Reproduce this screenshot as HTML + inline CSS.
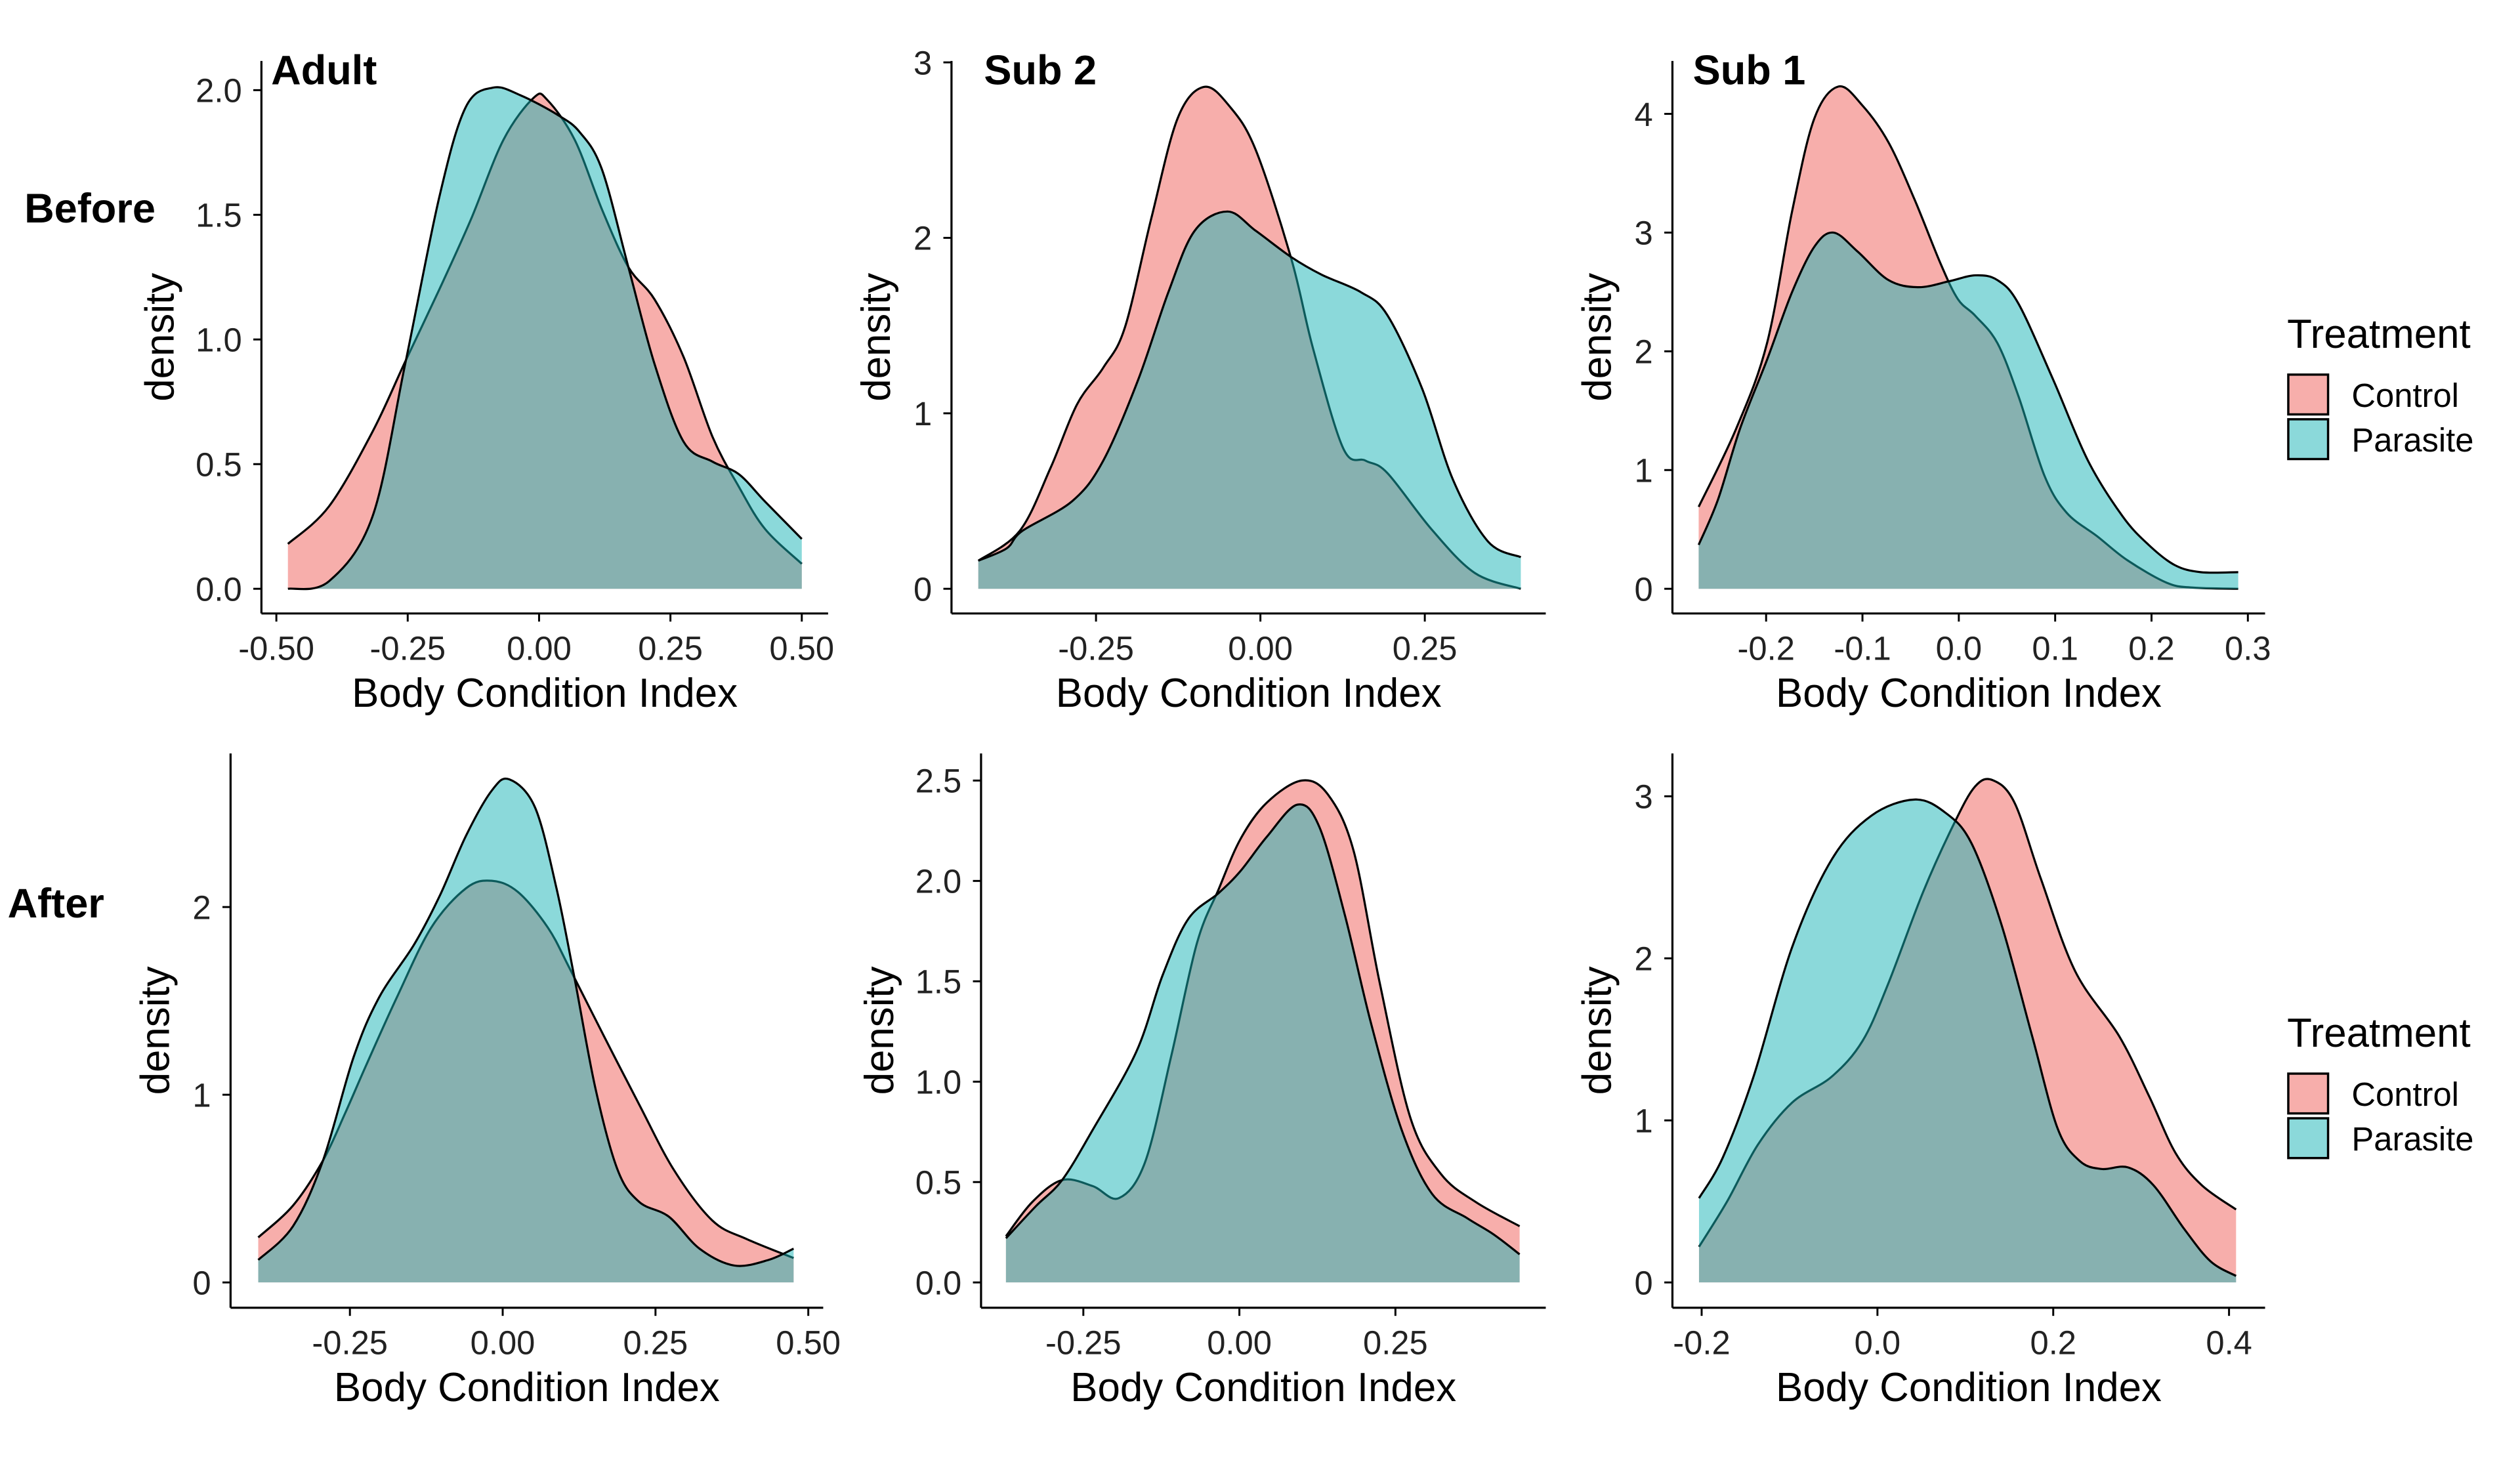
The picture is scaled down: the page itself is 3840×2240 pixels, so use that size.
<!DOCTYPE html>
<html><head><meta charset="utf-8"><style>
html,body{margin:0;padding:0;background:#fff;}
svg{display:block;font-family:"Liberation Sans",Arial,sans-serif;}
</style></head><body>
<svg id="chart" width="3840" height="2240" viewBox="0 0 1552 905.3" xmlns="http://www.w3.org/2000/svg"></svg>
<script>
// ---- data (x values & density values) ----
const adultBeforeCtrlX=[-0.478,-0.4,-0.317,-0.255,-0.19,-0.13,-0.068,-0.01,0.016,0.068,0.12,0.17,0.22,0.275,0.33,0.38,0.43,0.5];
const adultBeforeCtrlY=[0.18,0.33,0.63,0.91,1.2,1.48,1.8,1.97,1.96,1.8,1.52,1.29,1.16,0.93,0.61,0.41,0.24,0.1];
const adultBeforeParX=[-0.478,-0.4,-0.317,-0.255,-0.19,-0.14,-0.088,-0.036,0.036,0.078,0.12,0.17,0.22,0.275,0.33,0.38,0.43,0.5];
const adultBeforeParY=[0.0,0.03,0.29,0.9,1.57,1.93,2.01,1.98,1.9,1.83,1.68,1.29,0.9,0.59,0.51,0.46,0.35,0.2];
const sub2BeforeCtrlX=[-0.429,-0.366,-0.319,-0.279,-0.239,-0.206,-0.166,-0.126,-0.086,-0.047,-0.007,0.047,0.08,0.126,0.16,0.193,0.26,0.326,0.396];
const sub2BeforeCtrlY=[0.16,0.33,0.69,1.05,1.26,1.49,2.11,2.68,2.86,2.75,2.5,1.88,1.37,0.8,0.73,0.66,0.34,0.09,0.0];
const sub2BeforeParX=[-0.429,-0.386,-0.362,-0.286,-0.239,-0.186,-0.14,-0.1,-0.05,-0.007,0.047,0.093,0.153,0.193,0.246,0.293,0.346,0.396];
const sub2BeforeParY=[0.16,0.23,0.33,0.5,0.73,1.19,1.69,2.04,2.15,2.04,1.89,1.79,1.69,1.56,1.14,0.62,0.27,0.18];
const sub1BeforeCtrlX=[-0.27,-0.231,-0.199,-0.173,-0.15,-0.125,-0.1,-0.073,-0.046,-0.019,-0.001,0.017,0.04,0.062,0.089,0.112,0.144,0.175,0.216,0.243,0.29];
const sub1BeforeCtrlY=[0.69,1.35,2.07,3.18,3.96,4.23,4.07,3.76,3.28,2.74,2.44,2.3,2.07,1.62,0.95,0.64,0.44,0.24,0.05,0.01,0.0];
const sub1BeforeParX=[-0.27,-0.25,-0.227,-0.199,-0.173,-0.15,-0.13,-0.105,-0.073,-0.042,-0.01,0.017,0.04,0.062,0.098,0.134,0.17,0.197,0.224,0.251,0.29];
const sub1BeforeParY=[0.37,0.75,1.35,1.93,2.5,2.88,3.0,2.84,2.6,2.54,2.59,2.64,2.6,2.4,1.76,1.08,0.61,0.37,0.2,0.14,0.14];
const adultAfterCtrlX=[-0.4,-0.343,-0.294,-0.258,-0.223,-0.173,-0.117,-0.06,-0.018,0.025,0.074,0.11,0.166,0.223,0.28,0.343,0.4,0.476];
const adultAfterCtrlY=[0.24,0.41,0.65,0.9,1.16,1.52,1.89,2.1,2.14,2.08,1.89,1.67,1.31,0.95,0.6,0.33,0.23,0.13];
const adultAfterParX=[-0.4,-0.343,-0.294,-0.244,-0.202,-0.145,-0.103,-0.06,-0.018,0.011,0.053,0.088,0.117,0.152,0.188,0.223,0.272,0.322,0.379,0.435,0.476];
const adultAfterParY=[0.12,0.3,0.65,1.2,1.52,1.8,2.06,2.38,2.62,2.68,2.53,2.1,1.63,1.03,0.6,0.43,0.35,0.18,0.09,0.12,0.18];
const sub2AfterCtrlX=[-0.374,-0.332,-0.284,-0.235,-0.193,-0.151,-0.109,-0.068,-0.033,0.002,0.044,0.1,0.142,0.183,0.225,0.274,0.323,0.379,0.449];
const sub2AfterCtrlY=[0.23,0.4,0.51,0.48,0.42,0.6,1.13,1.69,1.96,2.21,2.39,2.5,2.43,2.15,1.49,0.82,0.54,0.4,0.28];
const sub2AfterParX=[-0.374,-0.326,-0.284,-0.235,-0.165,-0.123,-0.082,-0.033,0.002,0.044,0.093,0.128,0.169,0.211,0.26,0.309,0.365,0.407,0.449];
const sub2AfterParY=[0.22,0.38,0.51,0.76,1.15,1.53,1.81,1.94,2.05,2.22,2.38,2.27,1.83,1.29,0.76,0.44,0.32,0.24,0.14];
const sub1AfterCtrlX=[-0.203,-0.171,-0.136,-0.097,-0.052,-0.017,0.012,0.052,0.087,0.111,0.131,0.156,0.186,0.225,0.275,0.309,0.339,0.369,0.408];
const sub1AfterCtrlY=[0.22,0.5,0.85,1.11,1.27,1.49,1.84,2.41,2.83,3.06,3.1,2.96,2.49,1.92,1.52,1.15,0.8,0.6,0.45];
const sub1AfterParX=[-0.203,-0.176,-0.141,-0.097,-0.052,-0.007,0.042,0.077,0.107,0.141,0.176,0.205,0.23,0.255,0.285,0.314,0.349,0.379,0.408];
const sub1AfterParY=[0.52,0.77,1.27,2.07,2.61,2.88,2.98,2.9,2.71,2.21,1.52,0.95,0.75,0.7,0.71,0.6,0.33,0.13,0.04];
// tick labels
const ticksAdultBX=[-0.5,-0.25,0,0.25,0.5]; const labAdultBX=["-0.50","-0.25","0.00","0.25","0.50"];
const ticksAdultBY=[0,0.5,1,1.5,2]; const labAdultBY=["0.0","0.5","1.0","1.5","2.0"];
const ticksSub2BX=[-0.25,0,0.25]; const labSub2BX=["-0.25","0.00","0.25"];
const ticksSub2BY=[0,1,2,3]; const labSub2BY=["0","1","2","3"];
const ticksSub1BX=[-0.2,-0.1,0,0.1,0.2,0.3]; const labSub1BX=["-0.2","-0.1","0.0","0.1","0.2","0.3"];
const ticksSub1BY=[0,1,2,3,4]; const labSub1BY=["0","1","2","3","4"];
const ticksAdultAX=[-0.25,0,0.25,0.5]; const labAdultAX=["-0.25","0.00","0.25","0.50"];
const ticksAdultAY=[0,1,2]; const labAdultAY=["0","1","2"];
const ticksSub2AX=[-0.25,0,0.25]; const labSub2AX=["-0.25","0.00","0.25"];
const ticksSub2AY=[0,0.5,1,1.5,2,2.5]; const labSub2AY=["0.0","0.5","1.0","1.5","2.0","2.5"];
const ticksSub1AX=[-0.2,0,0.2,0.4]; const labSub1AX=["-0.2","0.0","0.2","0.4"];
const ticksSub1AY=[0,1,2,3]; const labSub1AY=["0","1","2","3"];

const CTRL='#EF5D57', PARA='#17B3B5';
const NS="http://www.w3.org/2000/svg";
const svg=document.getElementById('chart');
function mk(tag,attrs,parent){const e=document.createElementNS(NS,tag);for(const k in attrs)e.setAttribute(k,attrs[k]);(parent||svg).appendChild(e);return e;}
function smooth(pts){let d="M"+pts[0][0]+","+pts[0][1];for(let i=0;i<pts.length-1;i++){const p0=pts[i-1]||pts[i],p1=pts[i],p2=pts[i+1],p3=pts[i+2]||p2;
const c1=[p1[0]+(p2[0]-p0[0])/6,p1[1]+(p2[1]-p0[1])/6],c2=[p2[0]-(p3[0]-p1[0])/6,p2[1]-(p3[1]-p1[1])/6];
d+=" C"+c1[0]+","+c1[1]+" "+c2[0]+","+c2[1]+" "+p2[0]+","+p2[1];}return d;}

function panel(name,cfg){
 const g=mk('g',{});
 
 
 const sx=v=>cfg.x0+(v-cfg.xv0)*(cfg.x1-cfg.x0)/(cfg.xv1-cfg.xv0);
 const sy=v=>cfg.y0+(v-cfg.yv0)*(cfg.y1-cfg.y0)/(cfg.yv1-cfg.yv0);
 [[cfg.cx,cfg.cy,CTRL,'control'],[cfg.px,cfg.py,PARA,'parasite']].forEach(s=>{
  const pts=s[0].map((x,i)=>[sx(x),sy(s[1][i])]);
  const line=smooth(pts);
  const area=line+" L"+pts[pts.length-1][0]+","+sy(0)+" L"+pts[0][0]+","+sy(0)+" Z";
  const a=mk('path',{d:area,fill:s[2],'fill-opacity':0.5,stroke:'none'},g);
  
  
  const l=mk('path',{d:line,fill:'none',stroke:'#000','stroke-width':1.3},g);
  
  
 });
 mk('line',{x1:cfg.axl,y1:cfg.axy,x2:cfg.axr,y2:cfg.axy,stroke:'#000','stroke-width':1.3},g);
 mk('line',{x1:cfg.axl,y1:cfg.axt,x2:cfg.axl,y2:cfg.axy,stroke:'#000','stroke-width':1.3},g);
 cfg.tx.forEach((v,i)=>{const x=sx(v);mk('line',{x1:x,y1:cfg.axy,x2:x,y2:cfg.axy+5,stroke:'#000','stroke-width':1.2},g);
  const t=mk('text',{x:x,y:cfg.axy+28.5,'text-anchor':'middle','font-size':20.5,fill:'#222'},g);t.textContent=cfg.lx[i];
  
  });
 cfg.ty.forEach((v,i)=>{const y=sy(v);mk('line',{x1:cfg.axl-5,y1:y,x2:cfg.axl,y2:y,stroke:'#000','stroke-width':1.2},g);
  const t=mk('text',{x:cfg.axl-12,y:y+7.4,'text-anchor':'end','font-size':20.5,fill:'#222'},g);t.textContent=cfg.ly[i];
  
  });
 const xt=mk('text',{x:(cfg.axl+cfg.axr)/2,y:cfg.axy+57.5,'text-anchor':'middle','font-size':25,fill:'#000'},g);xt.textContent='Body Condition Index';
 
 
 const yc=(cfg.axt+cfg.axy)/2; const yx=cfg.ytx;
 const yt=mk('text',{x:yx,y:yc,'text-anchor':'middle','font-size':25,fill:'#000',transform:`rotate(-90 ${yx} ${yc})`},g);yt.textContent='density';
 
 
}
panel('adult-before',{x0:170.2,xv0:-0.5,x1:493.8,xv1:0.5,y0:362.6,yv0:0,y1:55.5,yv1:2,cx:adultBeforeCtrlX,cy:adultBeforeCtrlY,px:adultBeforeParX,py:adultBeforeParY,axl:161,axr:510,axy:377.8,axt:37.5,tx:ticksAdultBX,lx:labAdultBX,ty:ticksAdultBY,ly:labAdultBY,ytx:107});
panel('sub2-before',{x0:675,xv0:-0.25,x1:877.5,xv1:0.25,y0:362.6,yv0:0,y1:38.4,yv1:3,cx:sub2BeforeCtrlX,cy:sub2BeforeCtrlY,px:sub2BeforeParX,py:sub2BeforeParY,axl:586,axr:952,axy:377.8,axt:37.5,tx:ticksSub2BX,lx:labSub2BX,ty:ticksSub2BY,ly:labSub2BY,ytx:548});
panel('sub1-before',{x0:1087.7,xv0:-0.2,x1:1384.4,xv1:0.3,y0:362.6,yv0:0,y1:70.1,yv1:4,cx:sub1BeforeCtrlX,cy:sub1BeforeCtrlY,px:sub1BeforeParX,py:sub1BeforeParY,axl:1030,axr:1395,axy:377.8,axt:37.5,tx:ticksSub1BX,lx:labSub1BX,ty:ticksSub1BY,ly:labSub1BY,ytx:992});
panel('adult-after',{x0:215.5,xv0:-0.25,x1:497.8,xv1:0.5,y0:789.8,yv0:0,y1:558.6,yv1:2,cx:adultAfterCtrlX,cy:adultAfterCtrlY,px:adultAfterParX,py:adultAfterParY,axl:142,axr:507,axy:805.4,axt:464,tx:ticksAdultAX,lx:labAdultAX,ty:ticksAdultAY,ly:labAdultAY,ytx:104});
panel('sub2-after',{x0:667.2,xv0:-0.25,x1:859.4,xv1:0.25,y0:789.8,yv0:0,y1:480.7,yv1:2.5,cx:sub2AfterCtrlX,cy:sub2AfterCtrlY,px:sub2AfterParX,py:sub2AfterParY,axl:604.2,axr:952,axy:805.4,axt:464,tx:ticksSub2AX,lx:labSub2AX,ty:ticksSub2AY,ly:labSub2AY,ytx:550});
panel('sub1-after',{x0:1048,xv0:-0.2,x1:1372.8,xv1:0.4,y0:789.8,yv0:0,y1:490.4,yv1:3,cx:sub1AfterCtrlX,cy:sub1AfterCtrlY,px:sub1AfterParX,py:sub1AfterParY,axl:1030,axr:1395,axy:805.4,axt:464,tx:ticksSub1AX,lx:labSub1AX,ty:ticksSub1AY,ly:labSub1AY,ytx:992});

function label(txt,x,y,size,bold,name){const t=mk('text',{x:x,y:y,'font-size':size,'font-weight':bold?'bold':'normal',fill:'#000'});t.textContent=txt;
 
 }
label('Adult',167,52,25.5,true,'adult-panel-title');
label('Sub 2',606,52,25.5,true,'sub2-panel-title');
label('Sub 1',1042.6,52,25.5,true,'sub1-panel-title');
label('Before',15,137,25.5,true,'before-row-label');
label('After',4.7,565,25.5,true,'after-row-label');
[[214.2,'before'],[644.7,'after']].forEach(([ty,nm])=>{
 label('Treatment',1408.6,ty,25,false,nm+'-legend-title');
 [['Control',CTRL,ty+16.5,ty+36.4],['Parasite',PARA,ty+44,ty+63.8]].forEach(([t,c,y,by])=>{
  const r=mk('rect',{x:1409.3,y:y,width:24.5,height:24.5,fill:c,'fill-opacity':0.5,stroke:'#000','stroke-width':1.4});
  
  
  label(t,1448.3,by,20.5,false,nm+'-legend-label-'+t.toLowerCase());
 });
});
</script>
</body></html>
